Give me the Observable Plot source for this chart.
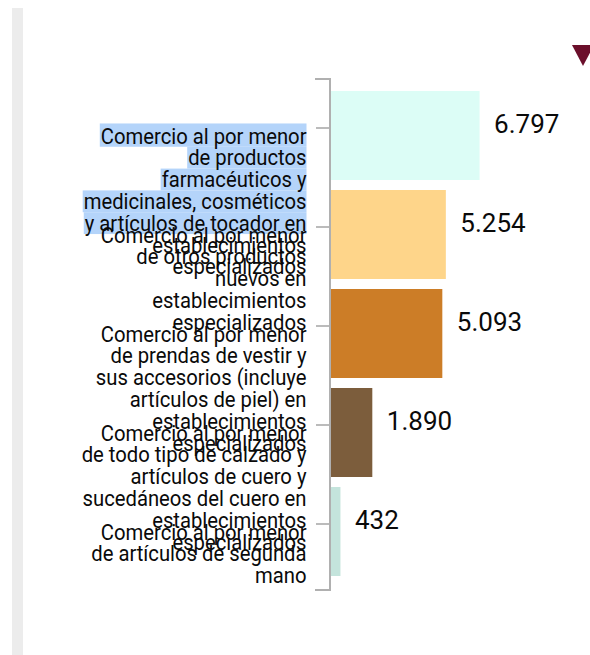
<!DOCTYPE html>
<html>
<head>
<meta charset="utf-8">
<script src="https://cdn.jsdelivr.net/npm/d3@7"></script>
<script src="https://cdn.jsdelivr.net/npm/@observablehq/plot@0.6"></script>
<style>
  html, body { margin: 0; padding: 0; background: #fff; }
  body { width: 590px; height: 655px; position: relative; overflow: hidden; font-family: Roboto, sans-serif; }
  #chart { position: absolute; left: 0; top: 0; }
  #strip { position: absolute; left: 12px; top: 8px; width: 11px; bottom: 0; background: #ececec; }
  #tri { position: absolute; left: 572px; top: 45px; width: 0; height: 0;
         border-left: 11px solid transparent; border-right: 11px solid transparent; border-top: 21px solid #6b0f2b; }
</style>
</head>
<body>
<div id="chart"></div>
<div id="strip"></div>
<div id="tri"></div>
<script>
const categories = [
  "Comercio al por menor de productos farmacéuticos y medicinales, cosméticos y artículos de tocador en establecimientos especializados",
  "Comercio al por menor de otros productos nuevos en establecimientos especializados",
  "Comercio al por menor de prendas de vestir y sus accesorios (incluye artículos de piel) en establecimientos especializados",
  "Comercio al por menor de todo tipo de calzado y artículos de cuero y sucedáneos del cuero en establecimientos especializados",
  "Comercio al por menor de artículos de segunda mano"
];
const tickLabels = [
  "Comercio al por menor\nde productos\nfarmacéuticos y\nmedicinales, cosméticos\ny artículos de tocador en\nestablecimientos\nespecializados",
  "Comercio al por menor\nde otros productos\nnuevos en\nestablecimientos\nespecializados",
  "Comercio al por menor\nde prendas de vestir y\nsus accesorios (incluye\nartículos de piel) en\nestablecimientos\nespecializados",
  "Comercio al por menor\nde todo tipo de calzado y\nartículos de cuero y\nsucedáneos del cuero en\nestablecimientos\nespecializados",
  "Comercio al por menor\nde artículos de segunda\nmano"
];
const values = [6797, 5254, 5093, 1890, 432];
const colors = ["#dcfdf6", "#fed58a", "#cc7d27", "#7c5d3c", "#c4e4dc"];

const data = categories.map((c, i) => ({category: c, value: values[i]}));
const labelOf = new Map(categories.map((c, i) => [c, tickLabels[i]]));
const fmt = d3.formatLocale({decimal: ",", thousands: ".", grouping: [3], currency: ["$", ""]}).format(",d");

const domainLine = (index, scales, vals, dims) => {
  const x0 = dims.marginLeft - 1;
  const y0 = dims.marginTop, y1 = dims.height - dims.marginBottom + 1;
  return d3.create("svg:path")
    .attr("d", `M${x0 - 15},${y0}H${x0}V${y1}H${x0 - 15}`)
    .attr("fill", "none")
    .attr("stroke", "#b0b0b0")
    .attr("stroke-width", 2)
    .node();
};

const plot = Plot.plot({
  width: 590,
  height: 655,
  marginLeft: 331,
  marginRight: 106,
  marginTop: 79,
  marginBottom: 66,
  style: {fontFamily: "Roboto, sans-serif", color: "#111", background: "transparent"},
  x: {domain: [0, 7000], axis: null},
  y: {domain: categories, padding: 0.1, label: null},
  color: {domain: categories, range: colors},
  marks: [
    Plot.barX(data, {x: "value", y: "category", fill: "category"}),
    Plot.axisY({
      tickSize: 15,
      tickPadding: 10,
      stroke: "#aaaaaa",
      strokeWidth: 1.6,
      fontSize: 22.5,
      lineHeight: 0.97,
      lineAnchor: "top",
      dy: -8,
      fill: "#0a0a0a",
      tickFormat: d => labelOf.get(d),
      label: null
    }),
    domainLine,
    Plot.text(data, {
      x: "value", y: "category", text: d => fmt(d.value),
      textAnchor: "start", dx: 14, dy: -11, fontSize: 26, fill: "#0a0a0a"
    })
  ]
});
document.getElementById("chart").appendChild(plot);

// the reference's tick labels are horizontally condensed
const axisG = plot.querySelector('g[aria-label="y-axis tick label"]');
if (axisG) {
  axisG.querySelectorAll("text").forEach(t => {
    const tr = t.getAttribute("transform") || "";
    t.setAttribute("transform", tr + " scale(0.9,1)");
  });
  // selection highlight behind the first lines of the first label
  const svgRect = plot.getBoundingClientRect();
  const firstText = axisG.querySelector("text");
  const spans = firstText.querySelectorAll("tspan");
  const hg = d3.create("svg:g").attr("fill", "#b4d4fa");
  let prevBottom = null;
  for (let i = 0; i < Math.min(5, spans.length); ++i) {
    const r = spans[i].getBoundingClientRect();
    const top = prevBottom == null ? r.top - svgRect.top + 1 : prevBottom;
    const bottom = r.bottom - svgRect.top - 2;
    hg.append("rect")
      .attr("x", r.left - svgRect.left - 1)
      .attr("y", top)
      .attr("width", r.width + 1)
      .attr("height", Math.max(0, bottom - top));
    prevBottom = bottom;
  }
  axisG.parentNode.insertBefore(hg.node(), axisG);
}
</script>
</body>
</html>
